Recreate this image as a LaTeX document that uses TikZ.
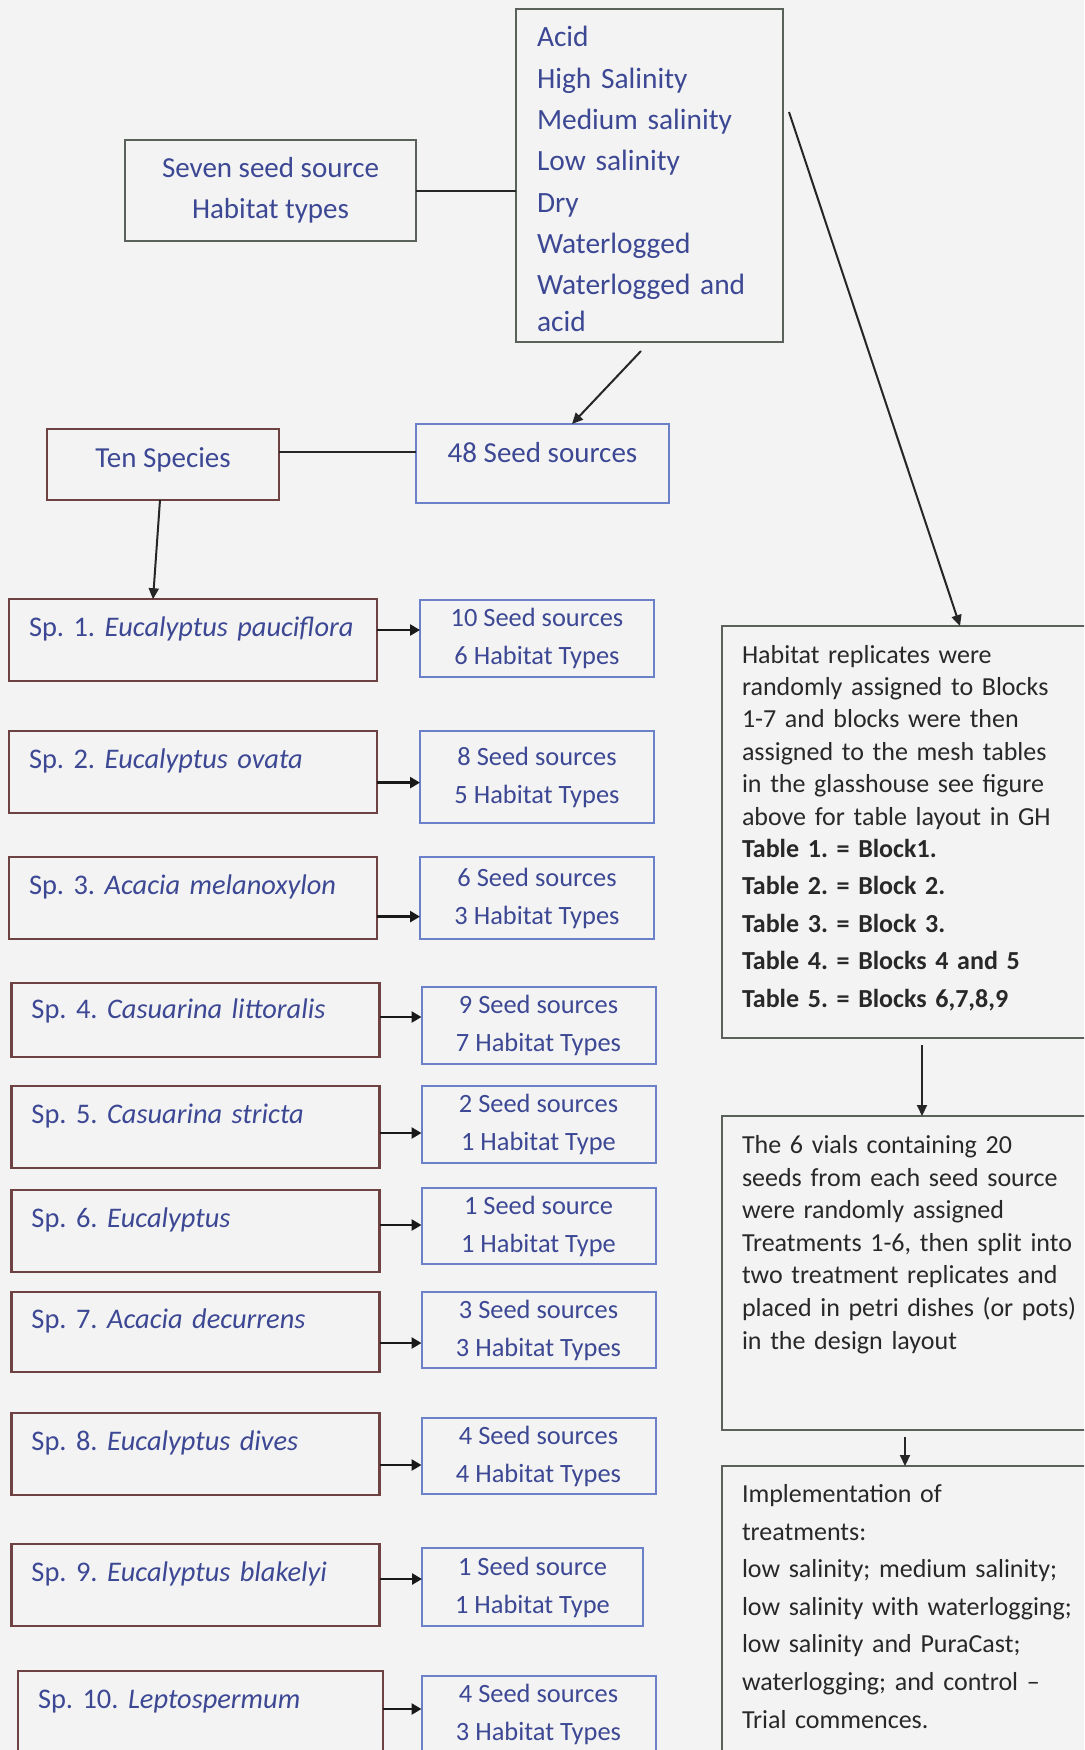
\documentclass[tikz,border=0pt]{standalone}
\usepackage{fontspec}
\setmainfont{Carlito}
\usetikzlibrary{arrows.meta,positioning}
\frenchspacing

\definecolor{inkblue}{RGB}{60,72,148}
\definecolor{inkgrey}{RGB}{40,40,40}
\definecolor{spframe}{RGB}{110,66,66}
\definecolor{srcframe}{RGB}{106,128,200}
\definecolor{greyframe}{RGB}{90,96,90}
\definecolor{paper}{RGB}{243,243,243}

\begin{document}
\begin{tikzpicture}[
    x=0.5pt,
    y=-0.5pt,
    every node/.style={inner sep=0pt, outer sep=0pt},
    bluetext/.style={text=inkblue, font=\fontsize{14.5}{17.5}\selectfont},
    greybox/.style={draw=greyframe, line width=1pt},
    spbox/.style={bluetext, font=\fontsize{14.2}{17}\selectfont, draw=spframe, line width=1.2pt,
      minimum width=184pt, text width=164pt, inner xsep=10pt, align=left,
      text height=10pt, text depth=14pt},
    srcbox/.style={draw=srcframe, line width=1pt, minimum width=117pt, align=center,
      text=inkblue, font=\fontsize{13.2}{19}\selectfont},
    notetext/.style={anchor=north west, text width=175pt, align=left, text=inkgrey,
      font=\fontsize{13}{16.2}\selectfont},
    link/.style={draw=black!85, line width=1pt},
    flow/.style={link, -{Triangle[length=5.5pt, width=5pt]}},
    feed/.style={draw=black!90, line width=1.4pt, -{Triangle[length=5pt, width=5.5pt]}}
  ]
    \useasboundingbox (0,0) rectangle (1084,1750);
    \fill[paper] (0,0) rectangle (1084,1750);
    \clip (0,0) rectangle (1084,1750);

    % habitat types
    \node[greybox, minimum width=133.5pt, minimum height=166.5pt] (hlist) at (649.5,175.5) {};
    \node[anchor=north west, text width=120pt, align=left, text=inkblue,
      font=\fontsize{14.7}{18.5}\selectfont] (hlisttxt) at (537,26.5)
      {Acid\\[2.15pt] High Salinity\\[2.15pt] Medium salinity\\[2.15pt] Low salinity\\[2.15pt]
       Dry\\[2.15pt] Waterlogged\\[2.15pt] Waterlogged and\\ acid};
    \node[greybox, bluetext, align=center, font=\fontsize{14.5}{20.5}\selectfont,
      minimum width=145.5pt, minimum height=50.5pt] (seven) at (270.5,190.5)
      {Seven seed source\\Habitat types};
    \draw[link] (seven.east) -- (seven.east -| hlist.west);

    % species and seed sources
    \node[bluetext, draw=spframe, line width=1.2pt, minimum width=116pt, minimum height=35.5pt,
      text height=9pt, text depth=6pt] (ten) at (163,464.5) {Ten Species};
    \node[bluetext, draw=srcframe, line width=1pt, minimum width=126.5pt, minimum height=39.5pt,
      text height=9pt, text depth=10pt] (seeds48) at (542.5,463.5) {48 Seed sources};
    \coordinate (tenlink) at ([yshift=6.5pt]ten.east);
    \draw[link] (tenlink) -- (tenlink -| seeds48.west);
    \draw[flow] ([xshift=-4.25pt, yshift=-4.5pt]hlist.south) -- ([xshift=14.75pt]seeds48.north);

    \node[spbox, minimum height=40.75pt] (sp1) at (193,640)
      {\mbox{Sp. 1. \textit{Eucalyptus pauciflora}}};
    \node[spbox, minimum height=41pt] (sp2) at (193,772) {Sp. 2. \textit{Eucalyptus ovata}};
    \node[spbox, minimum height=41pt] (sp3) at (193,898) {Sp. 3. \textit{Acacia melanoxylon}};
    \node[spbox, minimum height=36.75pt, text depth=12pt] (sp4) at (195.5,1020)
      {Sp. 4. \textit{Casuarina littoralis}};
    \node[spbox, minimum height=41pt] (sp5) at (195.5,1127) {Sp. 5. \textit{Casuarina stricta}};
    \node[spbox, minimum height=40.75pt] (sp6) at (195.5,1231) {Sp. 6. \textit{Eucalyptus}};
    \node[spbox, minimum height=40.25pt] (sp7) at (195.5,1332) {Sp. 7. \textit{Acacia decurrens}};
    \node[spbox, minimum height=41pt] (sp8) at (195.5,1454) {Sp. 8. \textit{Eucalyptus dives}};
    \node[spbox, minimum height=40.75pt] (sp9) at (195.5,1585) {Sp. 9. \textit{Eucalyptus blakelyi}};
    \node[spbox, minimum width=182.5pt, text width=162.5pt, minimum height=47pt,
      text depth=20pt] (sp10) at (200.5,1718) {Sp. 10. \textit{Leptospermum}};
    \draw[flow] ([xshift=-1.5pt]ten.south) -- ([xshift=-20pt]sp1.north);

    \node[srcbox, minimum height=38.5pt] (src1) at (537,638) {10 Seed sources\\6 Habitat Types};
    \node[srcbox, minimum height=46pt] (src2) at (537,777) {8 Seed sources\\5 Habitat Types};
    \node[srcbox, minimum height=41pt] (src3) at (537,898) {6 Seed sources\\3 Habitat Types};
    \node[srcbox, minimum height=38.5pt] (src4) at (538.5,1025.5) {9 Seed sources\\7 Habitat Types};
    \node[srcbox, minimum height=38.5pt] (src5) at (538.5,1124.5) {2 Seed sources\\1 Habitat Type};
    \node[srcbox, minimum height=38pt] (src6) at (538.5,1226) {1 Seed source\\1 Habitat Type};
    \node[srcbox, minimum height=38pt] (src7) at (538.5,1330) {3 Seed sources\\3 Habitat Types};
    \node[srcbox, minimum height=38pt] (src8) at (538.5,1456) {4 Seed sources\\4 Habitat Types};
    \node[srcbox, minimum width=110.5pt, minimum height=38.75pt] (src9) at (532.5,1587)
      {1 Seed source\\1 Habitat Type};
    \node[srcbox, minimum height=38pt] (src10) at (538.5,1714) {4 Seed sources\\3 Habitat Types};

    \foreach \i/\dy in {1/5,2/-5.3,3/-9.3,4/1.5,5/-3,6/3,7/-5.5,8/-5.5,9/3,10/4.5} {
      \coordinate (tip\i) at ([yshift=\dy pt]sp\i.east);
      \draw[feed] (tip\i) -- (tip\i -| src\i.west);
    }

    % glasshouse steps
    \node[greybox, minimum width=186.5pt, minimum height=206pt] (hab) at (908.5,832) {};
    \node[notetext] (habtxt) at (742,645)
      {Habitat replicates were\\ randomly assigned to Blocks\\ 1-7 and blocks were then\\
       assigned to the mesh tables\\ in the glasshouse see figure\\ above for table layout in GH\\
       \textbf{Table 1. = Block1.}\\[2.5pt] \textbf{Table 2. = Block 2.}\\[2.5pt]
       \textbf{Table 3. = Block 3.}\\[2.5pt] \textbf{Table 4. = Blocks 4 and 5}\\[2.5pt]
       \textbf{Table 5. = Blocks 6,7,8,9}};
    \node[greybox, minimum width=186.5pt, minimum height=157pt] (vials) at (908.5,1273) {};
    \node[notetext, font=\fontsize{13}{16.3}\selectfont] (vialstxt) at (742,1135.5)
      {The 6 vials containing 20\\ seeds from each seed source\\ were randomly assigned\\
       Treatments 1-6, then split into\\ two treatment replicates and\\
       placed in petri dishes (or pots)\\ in the design layout};
    \node[greybox, minimum width=186.5pt, minimum height=157pt] (impl) at (908.5,1623) {};
    \node[notetext, font=\fontsize{13}{18.8}\selectfont] (impltxt) at (742,1484.5)
      {Implementation of\\ treatments:\\ low salinity; medium salinity;\\
       low salinity with waterlogging;\\ low salinity and PuraCast;\\
       waterlogging; and control –\\ Trial commences.};

    \coordinate (tail) at (789,112);
    \draw[flow] (tail) -- ([xshift=25.75pt]hab.north);
    \draw[flow] ([xshift=6.75pt, yshift=-3.5pt]hab.south) -- ([xshift=6.75pt]vials.north);
    \draw[flow] ([xshift=-1.75pt, yshift=-3.5pt]vials.south) -- ([xshift=-1.75pt]impl.north);
  \end{tikzpicture}
\end{document}
